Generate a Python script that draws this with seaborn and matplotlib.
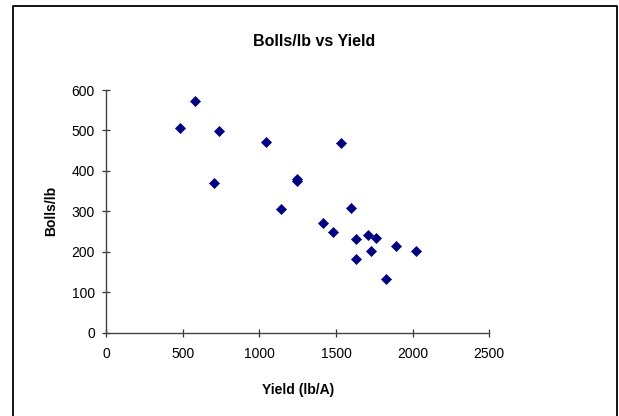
import matplotlib
matplotlib.use("Agg")
import matplotlib.pyplot as plt
import seaborn as sns
import pandas as pd
from matplotlib.lines import Line2D

yield_lb_a = [485, 580, 739, 1042, 702, 1141, 1244, 1248, 1535, 1600, 1413, 1478,
              1628, 1711, 1761, 1891, 2022, 1730, 1628, 1826]
bolls_lb = [505, 572, 499, 471, 369, 307, 381, 376, 468, 308, 272, 248,
            231, 242, 235, 214, 202, 203, 182, 133]

x_ticks = [0, 500, 1000, 1500, 2000, 2500]
y_ticks = [0, 100, 200, 300, 400, 500, 600]

df = pd.DataFrame({"Yield (lb/A)": yield_lb_a, "Bolls/lb": bolls_lb})

sns.set_theme(style="white")
plt.rcParams["font.family"] = ["Liberation Sans", "DejaVu Sans"]
plt.rcParams["text.color"] = "black"
plt.rcParams["axes.labelcolor"] = "black"

W, H = 619, 416
fig = plt.figure(figsize=(W / 100, H / 100), dpi=100)
ax = fig.add_axes([106 / W, (H - 332.8) / H, (489.3 - 106) / W, (332.8 - 90) / H])

sns.scatterplot(data=df, x="Yield (lb/A)", y="Bolls/lb", ax=ax, marker="D",
                color="#000080", edgecolor="#000080", s=26, linewidth=0.5)

ax.set_xlim(0, 2500)
ax.set_ylim(0, 600)
ax.set_xticks(x_ticks)
ax.set_yticks(y_ticks)
ax.tick_params(axis="both", direction="inout", length=6, width=0.9, color="#333333",
               labelsize=10, labelcolor="black", bottom=True, left=True)
ax.tick_params(axis="x", pad=7)
ax.tick_params(axis="y", pad=5)
for s in ["top", "right"]:
    ax.spines[s].set_visible(False)
for s in ["left", "bottom"]:
    ax.spines[s].set_color("#444444")
    ax.spines[s].set_linewidth(1.0)

ax.set_xlabel("Yield (lb/A)", fontsize=10, fontweight="bold", labelpad=16, color="black")
ax.set_ylabel("Bolls/lb", fontsize=10, fontweight="bold", labelpad=10, color="black")

fig.text(314 / W, 1 - 41 / H, "Bolls/lb vs Yield", ha="center", va="center",
         fontsize=11.5, fontweight="bold", color="black")

# outer chart frame (left, top, right)
fl, ft, fr = 12.5 / W, 1 - 6 / H, 616.5 / W
fig.add_artist(Line2D([fl, fl, fr, fr], [0, ft, ft, 0], transform=fig.transFigure,
                      color="black", linewidth=1.3))

fig.savefig("out.png", dpi=100)
